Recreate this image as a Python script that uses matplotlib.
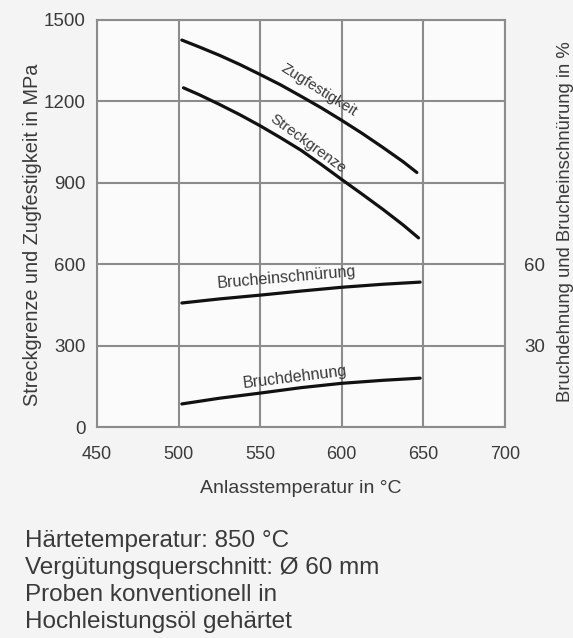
import matplotlib
matplotlib.use("Agg")
import matplotlib.pyplot as plt
import numpy as np

plt.rcParams['font.family'] = ['Liberation Sans', 'DejaVu Sans']

# Data (temperature in °C)
temp_zug = [502, 512.5, 525, 537.5, 550, 562.5, 575, 587.5, 600, 612.5, 625, 637.5, 646]
zugfestigkeit = [1426, 1401, 1370, 1336, 1299, 1261, 1219, 1176, 1130, 1082, 1031, 978, 938]
temp_streck = [503, 512.5, 525, 537.5, 550, 562.5, 575, 587.5, 600, 612.5, 625, 637.5, 647]
streckgrenze = [1250, 1225, 1189, 1151, 1110, 1066, 1020, 967, 912, 858, 803, 745, 697]
temp_pct = [502, 525, 550, 575, 600, 625, 648]
brucheinschnuerung = [45.7, 47.2, 48.6, 50.1, 51.5, 52.6, 53.4]
bruchdehnung = [8.5, 10.6, 12.5, 14.5, 16.1, 17.2, 18.0]

x_ticks = [450, 500, 550, 600, 650, 700]
y_ticks = [0, 300, 600, 900, 1200, 1500]
y2_ticks = [30, 60]

notes = ["Härtetemperatur: 850 °C",
         "Vergütungsquerschnitt: Ø 60 mm",
         "Proben konventionell in",
         "Hochleistungsöl gehärtet"]

W, H = 573, 638
fig = plt.figure(figsize=(W/100, H/100), dpi=100, facecolor='#f4f4f4')
ax = fig.add_axes([97/W, 1-427/H, (505-97)/W, (427-20)/H])
ax.set_facecolor('#fbfbfb')
ax.set_xlim(450, 700)
ax.set_ylim(0, 1500)
ax.set_xticks(x_ticks)
ax.set_yticks(y_ticks)
ax.grid(True, color='#8c8c8c', linewidth=1.5)
for s in ax.spines.values():
    s.set_color('#8c8c8c')
    s.set_linewidth(1.5)
ax.tick_params(axis='x', length=0, labelsize=13, colors='#3a3a3a', pad=14)
ax.tick_params(axis='y', length=0, labelsize=13.5, colors='#3a3a3a', pad=8)

lc = '#111111'
ax.plot(temp_zug, zugfestigkeit, color=lc, lw=2.3, solid_capstyle='round')
ax.plot(temp_streck, streckgrenze, color=lc, lw=2.3, solid_capstyle='round')

ax2 = ax.twinx()
ax2.set_ylim(0, 150)
ax2.set_yticks(y2_ticks)
for s in ax2.spines.values():
    s.set_visible(False)
ax2.tick_params(length=0, labelsize=13.5, colors='#3a3a3a', pad=14)
ax2.plot(temp_pct, brucheinschnuerung, color=lc, lw=2.3, solid_capstyle='round')
ax2.plot(temp_pct, bruchdehnung, color=lc, lw=2.3, solid_capstyle='round')

tc = '#3a3a3a'
ax.text(586, 1240, "Zugfestigkeit", rotation=-32, fontsize=11, color=tc,
        ha='center', va='center')
ax.text(579, 1043, "Streckgrenze", rotation=-36, fontsize=11, color=tc,
        ha='center', va='center')
ax2.text(566, 55, "Brucheinschnürung", rotation=5, fontsize=11.6, color=tc,
         ha='center', va='center')
ax2.text(571, 18.5, "Bruchdehnung", rotation=7, fontsize=11.6, color=tc,
         ha='center', va='center')

ax.set_xlabel("Anlasstemperatur in °C", fontsize=14, color=tc, labelpad=12)
fig.text(33/W, 1-235/H, "Streckgrenze und Zugfestigkeit in MPa", rotation=90,
         fontsize=14.3, color=tc, ha='center', va='center')
fig.text(565/W, 1-222/H, "Bruchdehnung und Brucheinschnürung in %", rotation=90,
         fontsize=13.3, color=tc, ha='center', va='center')

for i, line in enumerate(notes):
    fig.text(25/W, 1-(547+27*i)/H, line, fontsize=17.5, color=tc,
             ha='left', va='baseline')

fig.savefig("out.png", dpi=100, facecolor=fig.get_facecolor())
